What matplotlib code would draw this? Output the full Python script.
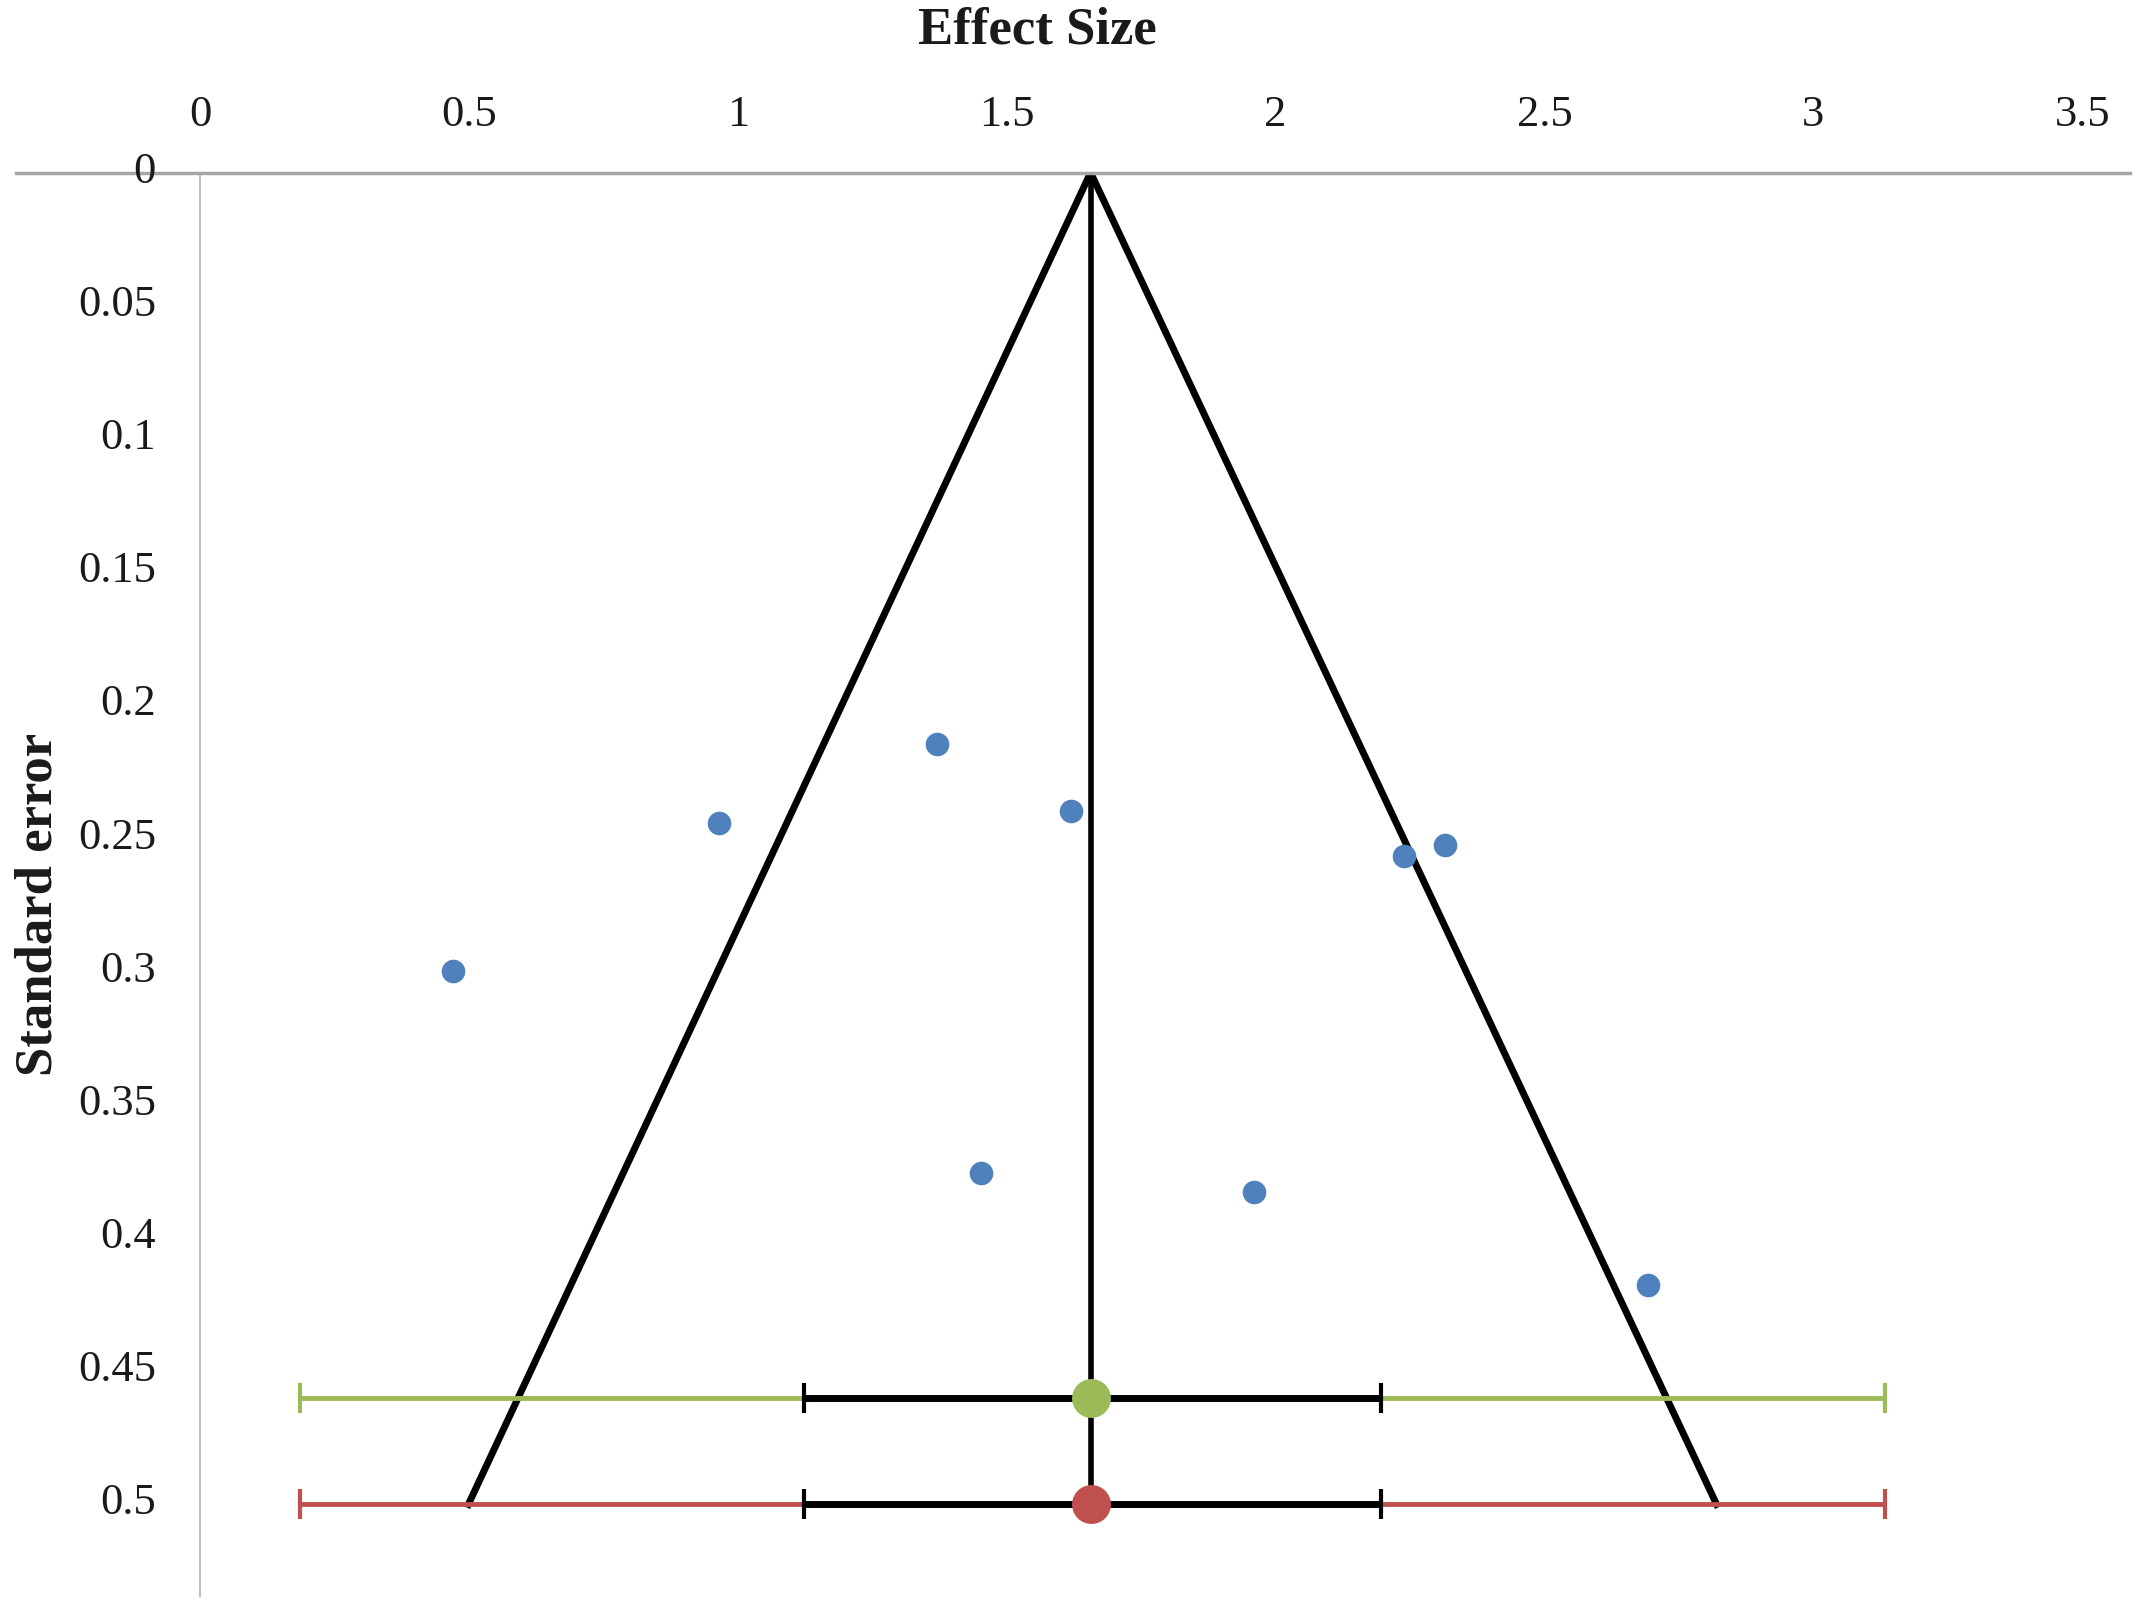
import matplotlib.pyplot as plt
import matplotlib.transforms as mtransforms

# ── data ────────────────────────────────────────────────────────────────────
effect_size = [1.370, 0.965, 1.620, 2.239, 2.315, 0.471, 1.452, 1.959, 2.692]
std_error   = [0.2145, 0.2443, 0.2397, 0.2567, 0.2526, 0.2999, 0.3755, 0.3827, 0.4177]

pooled      = 1.656
funnel_se   = [0.5, 0.0, 0.5]
funnel_x    = [0.499, 1.656, 2.820]

# summary rows: se, confidence interval, prediction interval, colour
summary_se  = [0.46, 0.50]
ci_low      = [1.123, 1.123]
ci_high     = [2.196, 2.196]
pi_low      = [0.186, 0.186]
pi_high     = [3.133, 3.133]
summary_col = ['#9BBB59', '#C0504D']

x_ticks = [0, 0.5, 1, 1.5, 2, 2.5, 3, 3.5]
y_ticks = [0, 0.05, 0.1, 0.15, 0.2, 0.25, 0.3, 0.35, 0.4, 0.45, 0.5]

plt.rcParams['font.family'] = ['Liberation Serif', 'DejaVu Serif']

fig = plt.figure(figsize=(21.48, 16.10), dpi=100)
ax = fig.add_axes([12 / 1568, 1 - 1165 / 1175, (1555 - 12) / 1568, (1165 - 126) / 1175])

# funnel + pooled line
ax.plot(funnel_x, funnel_se, color='black', lw=5, solid_joinstyle='miter', zorder=2)
ax.plot([pooled, pooled], [0, summary_se[-1]], color='black', lw=4, zorder=2)

# summary estimates: outer coloured interval, inner black interval, dot
for se, lo, hi, plo, phi, c in zip(summary_se, ci_low, ci_high, pi_low, pi_high, summary_col):
    ax.errorbar(pooled, se, xerr=[[pooled - plo], [phi - pooled]], fmt='none',
                ecolor=c, elinewidth=3.5, capsize=11, capthick=3, zorder=3)
    ax.errorbar(pooled, se, xerr=[[pooled - lo], [hi - pooled]], fmt='none',
                ecolor='black', elinewidth=5, capsize=11, capthick=3, zorder=4)
    ax.plot(pooled, se, 'o', color=c, ms=28, mec='none', zorder=5)

# individual studies
ax.plot(effect_size, std_error, 'o', color='#4F81BD', ms=17, mec='none', zorder=5)

ax.set_xlim(-0.3413, 3.589)
ax.set_ylim(0.5345, 0)

ax.xaxis.tick_top()
ax.set_xticks(x_ticks)
ax.set_xticklabels([f'{v:g}' for v in x_ticks])
ax.tick_params(axis='x', length=0, pad=27, labelsize=32, colors='#1a1a1a')

# y value labels drawn by hand: Excel sits them a touch above the value
ax.set_yticks(y_ticks)
ax.tick_params(axis='y', length=0, labelleft=False)
ylab_trans = ax.transData + mtransforms.ScaledTranslation(-0.44, 0.055, fig.dpi_scale_trans)
for v in y_ticks:
    ax.text(0, v, f'{v:g}', transform=ylab_trans, ha='right', va='center_baseline',
            fontsize=32, color='#1a1a1a', clip_on=False)

for s in ['right', 'bottom']:
    ax.spines[s].set_visible(False)
ax.spines['left'].set_position(('data', 0))
ax.spines['left'].set_color('#BFBFBF')
ax.spines['left'].set_linewidth(1.5)
ax.spines['top'].set_color('#A6A6A6')
ax.spines['top'].set_linewidth(2.5)
ax.patch.set_alpha(0)

fig.text(757 / 1568, 1 - 22 / 1175, 'Effect Size', ha='center', va='center',
         fontsize=38, fontweight='bold', color='#1a1a1a')
fig.text(28 / 1568, 1 - 660 / 1175, 'Standard error', ha='center', va='center',
         rotation=90, fontsize=38, fontweight='bold', color='#1a1a1a')

fig.savefig('out.png', dpi=100)
